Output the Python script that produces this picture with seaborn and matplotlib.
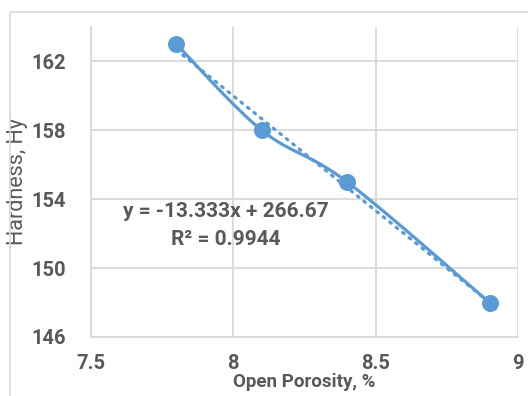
import numpy as np
import pandas as pd
import matplotlib
matplotlib.use("Agg")
import matplotlib.pyplot as plt
from matplotlib.patches import Rectangle
import seaborn as sns

# Measured samples
open_porosity = [7.8, 8.1, 8.4, 8.9]
hardness = [163, 158, 155, 148]

x_ticks = [7.5, 8, 8.5, 9]
y_ticks = [146, 150, 154, 158, 162]

BLUE = "#5B9BD5"
TEXT = "#595959"
GRID = "#D9D9D9"

sns.set_theme(style="white")
plt.rcParams["font.family"] = ["Roboto", "DejaVu Sans"]

df = pd.DataFrame({"porosity": open_porosity, "hardness": hardness})

fig = plt.figure(figsize=(5.28, 3.96), dpi=100)
W, H = 528, 396
ax = fig.add_axes([91 / W, (H - 337) / H, (518 - 91) / W, (337 - 27) / H])

# chart frame
fig.patches.append(Rectangle((10 / W, -0.1), 1.2, (H - 12) / H + 0.1,
                             transform=fig.transFigure, fill=False,
                             edgecolor=GRID, linewidth=1.2, zorder=0))


def smooth_curve(xs, ys, n=40):
    """Catmull-Rom style Bezier smoothing through the given points."""
    p = np.column_stack([xs, ys]).astype(float)
    ext = np.vstack([p[0], p, p[-1]])
    out = []
    t = np.linspace(0, 1, n)[:, None]
    for i in range(len(p) - 1):
        p0, p1, p2, p3 = ext[i], ext[i + 1], ext[i + 2], ext[i + 3]
        c1 = p1 + (p2 - p0) / 6
        c2 = p2 - (p3 - p1) / 6
        seg = ((1 - t) ** 3) * p1 + 3 * ((1 - t) ** 2) * t * c1 \
            + 3 * (1 - t) * t ** 2 * c2 + t ** 3 * p2
        out.append(seg)
    c = np.vstack(out)
    return c[:, 0], c[:, 1]


sx, sy = smooth_curve(df["porosity"], df["hardness"])
ax.plot(sx, sy, color=BLUE, lw=2.3, solid_capstyle="round", zorder=3)

# linear trendline
sns.regplot(data=df, x="porosity", y="hardness", ax=ax, scatter=False,
            ci=None, truncate=True, color=BLUE,
            line_kws=dict(lw=2.3, linestyle=(0, (0.6, 2.0)),
                          dash_capstyle="round", zorder=2))

sns.scatterplot(data=df, x="porosity", y="hardness", ax=ax, color=BLUE,
                s=150, edgecolor=BLUE, linewidth=0, zorder=4)

slope, intercept = np.polyfit(open_porosity, hardness, 1)
pred = np.polyval([slope, intercept], open_porosity)
ss_res = np.sum((np.array(hardness) - pred) ** 2)
ss_tot = np.sum((np.array(hardness) - np.mean(hardness)) ** 2)
r2 = 1 - ss_res / ss_tot

ax.text(7.975, 153.3, f"y = {slope:.3f}x + {intercept:.2f}", ha="center",
        va="center", color=TEXT, fontsize=15, fontweight="bold")
ax.text(7.975, 151.65, f"R² = {r2:.4f}", ha="center", va="center",
        color=TEXT, fontsize=15, fontweight="bold")

ax.set_xlim(7.5, 9)
ax.set_ylim(146, 164)
ax.set_xticks(x_ticks)
ax.set_xticklabels(["7.5", "8", "8.5", "9"])
ax.set_yticks(y_ticks)
ax.grid(True, color=GRID, lw=1.3)
for s in ["top", "right"]:
    ax.spines[s].set_visible(False)
for s in ["left", "bottom"]:
    ax.spines[s].set_color(GRID)
    ax.spines[s].set_linewidth(1.3)
ax.tick_params(axis="both", length=0, labelsize=14.5, labelcolor=TEXT)
ax.tick_params(axis="x", pad=12)
ax.tick_params(axis="y", pad=18)
for lab in ax.get_xticklabels() + ax.get_yticklabels():
    lab.set_fontweight("bold")

ax.set_xlabel("Open Porosity, %", color=TEXT, fontsize=13.5, fontweight="bold",
              labelpad=0)
ax.set_ylabel("Hardness, Hy", color=TEXT, fontsize=15.5)
ax.yaxis.set_label_coords(-0.148, 0.5)

fig.savefig("out.png", dpi=100)
